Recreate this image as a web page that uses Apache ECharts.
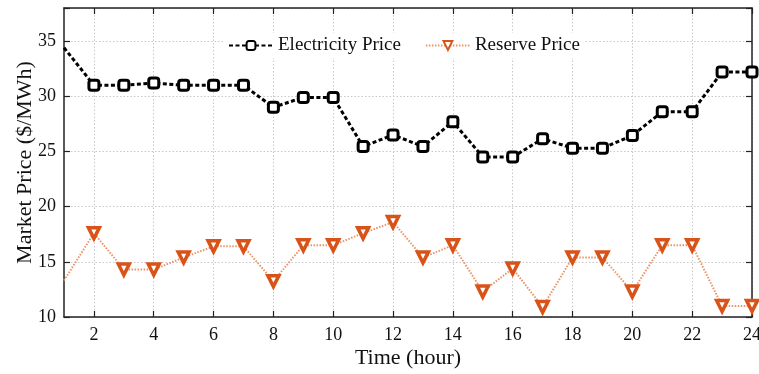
<!DOCTYPE html>
<html>
<head>
<meta charset="utf-8">
<script src="https://cdn.jsdelivr.net/npm/echarts@6/dist/echarts.min.js"></script>
<style>
  html, body { margin: 0; padding: 0; background: #fff; }
  #chart { width: 759px; height: 374px; }
</style>
</head>
<body>
<div id="chart"></div>
<script>
// Hourly market prices over one day
const hours = ['1','2','3','4','5','6','7','8','9','10','11','12','13','14','15','16','17','18','19','20','21','22','23','24'];
const electricityPrice = [34.4, 31.0, 31.0, 31.2, 31.0, 31.0, 31.0, 29.0, 29.9, 29.9, 25.45, 26.5, 25.45, 27.7, 24.5, 24.5, 26.15, 25.3, 25.3, 26.45, 28.6, 28.6, 32.2, 32.2];
const reservePrice = [13.3, 17.6, 14.3, 14.3, 15.4, 16.4, 16.4, 13.25, 16.5, 16.5, 17.6, 18.6, 15.4, 16.5, 12.3, 14.4, 10.9, 15.4, 15.4, 12.3, 16.5, 16.5, 11.0, 11.0];
const yTicks = [10, 15, 20, 25, 30, 35];

const FONT = '"Liberation Serif", "Times New Roman", serif';
const evenHour = (idx) => (idx + 1) % 2 === 0;
const frameColor = '#222';
const gridLine = { show: true, interval: evenHour, lineStyle: { color: '#c8c8c8', type: [1.5, 2], width: 1 } };

// the first hour is drawn as a plain line start, without a marker
const withoutFirstMarker = (values) => values.map((v, i) => (i === 0 ? { value: v, symbol: 'none' } : v));

const chart = echarts.init(document.getElementById('chart'), null, { renderer: 'canvas' });
chart.setOption({
  animation: false,
  backgroundColor: '#fff',
  grid: { left: 64, right: 7, top: 8, bottom: 57, containLabel: false, outerBoundsMode: 'none' },
  legend: {
    top: 33,
    left: 224,
    itemWidth: 44,
    itemHeight: 11,
    itemGap: 24,
    backgroundColor: '#fff',
    padding: [3, 4],
    textStyle: { fontFamily: FONT, fontSize: 19, color: '#111' },
    data: ['Electricity Price', 'Reserve Price']
  },
  xAxis: [
    {
      type: 'category',
      data: hours,
      boundaryGap: false,
      name: 'Time (hour)',
      nameLocation: 'middle',
      nameGap: 30,
      nameMoveOverlap: false,
      nameTextStyle: { fontFamily: FONT, fontSize: 22, color: '#111' },
      axisLine: { lineStyle: { color: frameColor, width: 1.5 } },
      axisTick: { inside: true, length: 6, interval: evenHour, lineStyle: { color: frameColor, width: 1.2 } },
      axisLabel: { interval: evenHour, fontFamily: FONT, fontSize: 18, color: '#111', margin: 9 },
      splitLine: gridLine
    },
    {
      type: 'category',
      data: hours,
      boundaryGap: false,
      position: 'top',
      axisLine: { lineStyle: { color: frameColor, width: 1.5 } },
      axisTick: { inside: true, length: 6, interval: evenHour, lineStyle: { color: frameColor, width: 1.2 } },
      axisLabel: { show: false },
      splitLine: { show: false }
    }
  ],
  yAxis: [
    {
      type: 'value',
      min: 10,
      max: 38,
      interval: 5,
      name: 'Market Price ($/MWh)',
      nameLocation: 'middle',
      nameGap: 28,
      nameMoveOverlap: false,
      nameTextStyle: { fontFamily: FONT, fontSize: 22, color: '#111' },
      axisLine: { show: true, lineStyle: { color: frameColor, width: 1.5 } },
      axisTick: { show: true, inside: true, length: 6, lineStyle: { color: frameColor, width: 1.2 } },
      axisLabel: {
        fontFamily: FONT, fontSize: 18, color: '#111', margin: 8,
        formatter: (v) => (yTicks.indexOf(v) >= 0 ? String(v) : '')
      },
      splitLine: { show: true, lineStyle: { color: '#c8c8c8', type: [1.5, 2], width: 1 } }
    },
    {
      type: 'value',
      min: 10,
      max: 38,
      interval: 5,
      position: 'right',
      axisLine: { show: true, lineStyle: { color: frameColor, width: 1.5 } },
      axisTick: { show: true, inside: true, length: 6, lineStyle: { color: frameColor, width: 1.2 } },
      axisLabel: { show: false },
      splitLine: { show: false }
    }
  ],
  series: [
    {
      name: 'Electricity Price',
      type: 'line',
      data: withoutFirstMarker(electricityPrice),
      symbol: 'roundRect',
      symbolSize: 10,
      z: 3,
      lineStyle: { color: '#000', width: 3, type: [4, 2.5] },
      itemStyle: { color: '#fff', borderColor: '#000', borderWidth: 3 }
    },
    {
      name: 'Reserve Price',
      type: 'line',
      data: withoutFirstMarker(reservePrice),
      symbol: 'triangle',
      symbolRotate: 180,
      symbolSize: 11,
      z: 2,
      lineStyle: { color: '#ea9468', width: 2, type: [1.5, 1.5] },
      itemStyle: { color: '#fff', borderColor: '#D95319', borderWidth: 3.5 }
    }
  ]
});
</script>
</body>
</html>
